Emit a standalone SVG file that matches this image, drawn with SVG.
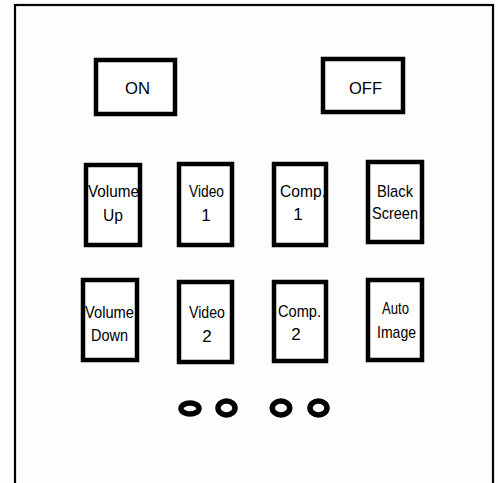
<svg xmlns="http://www.w3.org/2000/svg" width="498" height="483" viewBox="0 0 498 483">
<style>
.btn{fill:#fff;stroke:#000;stroke-width:4.5}
.t{font-family:"Liberation Sans",Arial,sans-serif;font-size:17px;fill:#000;text-anchor:middle}
.led{fill:none;stroke:#000;stroke-width:5.5}
</style>
<rect x="0" y="0" width="498" height="483" fill="#fdfdfd"/>
<rect id="panel" x="15" y="5" width="478" height="490" fill="#fdfdfd" stroke="#000" stroke-width="2.2"/>
<g id="on"><rect class="btn" x="96" y="60" width="79" height="54"/><text class="t" x="137.5" y="94" textLength="25" lengthAdjust="spacingAndGlyphs">ON</text></g>
<g id="off"><rect class="btn" x="323" y="59" width="80" height="53"/><text class="t" x="365.5" y="94" textLength="33" lengthAdjust="spacingAndGlyphs">OFF</text></g>
<g id="volume-up"><rect class="btn" x="86" y="165" width="54" height="80"/><text class="t" x="113.5" y="197" textLength="51" lengthAdjust="spacingAndGlyphs">Volume</text><text class="t" x="113" y="221" textLength="20" lengthAdjust="spacingAndGlyphs">Up</text></g>
<g id="video-1"><rect class="btn" x="179" y="164" width="53" height="81"/><text class="t" x="206.5" y="197" textLength="35" lengthAdjust="spacingAndGlyphs">Video</text><text class="t" x="206" y="221">1</text></g>
<g id="comp-1"><rect class="btn" x="274" y="164" width="52" height="81"/><text class="t" x="303" y="197" textLength="46" lengthAdjust="spacingAndGlyphs">Comp.</text><text class="t" x="298" y="220">1</text></g>
<g id="black-screen"><rect class="btn" x="368" y="162" width="54" height="80"/><text class="t" x="395" y="197" textLength="36" lengthAdjust="spacingAndGlyphs">Black</text><text class="t" x="395" y="219" textLength="46" lengthAdjust="spacingAndGlyphs">Screen</text></g>
<g id="volume-down"><rect class="btn" x="83" y="280" width="54" height="80"/><text class="t" x="109.5" y="318" textLength="49" lengthAdjust="spacingAndGlyphs">Volume</text><text class="t" x="109.5" y="341" textLength="37" lengthAdjust="spacingAndGlyphs">Down</text></g>
<g id="video-2"><rect class="btn" x="179" y="282" width="53" height="80"/><text class="t" x="207" y="318" textLength="36" lengthAdjust="spacingAndGlyphs">Video</text><text class="t" x="207" y="342">2</text></g>
<g id="comp-2"><rect class="btn" x="274" y="282" width="52" height="79"/><text class="t" x="299.5" y="317" textLength="43" lengthAdjust="spacingAndGlyphs">Comp.</text><text class="t" x="296" y="340">2</text></g>
<g id="auto-image"><rect class="btn" x="368" y="280" width="54" height="80"/><text class="t" x="395.5" y="314" textLength="27" lengthAdjust="spacingAndGlyphs">Auto</text><text class="t" x="396.5" y="338" textLength="39" lengthAdjust="spacingAndGlyphs">Image</text></g>
<g id="leds">
<ellipse class="led" cx="190" cy="408.5" rx="9" ry="5.5"/>
<ellipse class="led" cx="226.5" cy="408" rx="8.5" ry="7"/>
<ellipse class="led" cx="281" cy="408" rx="8.7" ry="7"/>
<ellipse class="led" cx="318.5" cy="408" rx="8.5" ry="7"/>
</g>
<g id="connectors"/>
</svg>
